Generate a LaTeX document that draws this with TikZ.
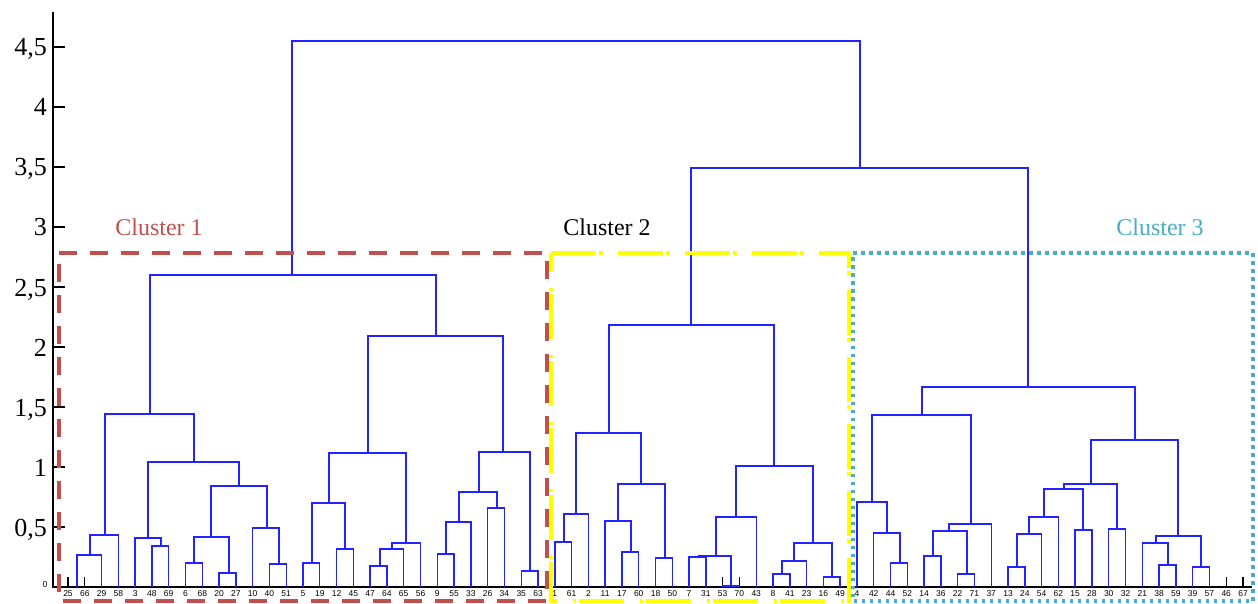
\documentclass[tikz,border=0pt]{standalone}
\usepackage{fontspec}
\setmainfont{Liberation Serif}
\newfontfamily\leaffont{Liberation Sans}
\definecolor{clA}{RGB}{192,80,77}
\definecolor{clB}{RGB}{255,255,0}
\definecolor{clC}{RGB}{75,172,198}
\definecolor{dendro}{RGB}{35,35,255}
% merge of two subtrees: name, x, height, left child, right child
\newcommand\joinpair[5]{%
  \coordinate (#1) at (#2,#3);
  \draw[link] (#4) |- (#1) -| (#5);}
\begin{document}
\begin{tikzpicture}[x=1pt,y=-1pt,
  link/.style={draw=dendro,line width=1.4pt},
  axisline/.style={draw=black,line width=1.2pt},
  leaftick/.style={draw=black,line width=1.2pt},
  leaflabel/.style={font=\leaffont\fontsize{8.5}{9}\selectfont,inner sep=0pt},
  ylabel/.style={font=\fontsize{26}{28}\selectfont,anchor=base east,inner sep=0pt},
  clustertitle/.style={font=\fontsize{24}{26}\selectfont,anchor=base,inner sep=0pt},
  boxA/.style={draw=clA,line width=4.5pt,dash pattern=on 18pt off 13pt},
  boxB/.style={draw=clB,line width=4.5pt,dash pattern=on 45pt off 3pt on 3.5pt off 15.5pt},
  boxC/.style={draw=clC,line width=3.5pt,dash pattern=on 3.5pt off 4.5pt},
]
\useasboundingbox (0,0) rectangle (1258,604);

% axes
\coordinate (axtop) at (53,12);
\coordinate (ax0) at (53,587);
\coordinate (axright) at (1252,587);
\draw[axisline] (axtop) -- (ax0) -- (axright);
\foreach \k in {1,...,9} {\draw[axisline] (53,{587-60*\k}) -- ++(12,0);}
\node[ylabel] (y1) at (47,536) {0,5};
\node[ylabel] (y2) at (47,476) {1};
\node[ylabel] (y3) at (47,416) {1,5};
\node[ylabel] (y4) at (47,356) {2};
\node[ylabel] (y5) at (47,296) {2,5};
\node[ylabel] (y6) at (47,236) {3};
\node[ylabel] (y7) at (47,176) {3,5};
\node[ylabel] (y8) at (47,116) {4};
\node[ylabel] (y9) at (47,56) {4,5};
\node[leaflabel] (y0) at (45,585) {0};

% leaves
\foreach \i/\lab in {0/25,1/66,2/29,3/58,4/3,5/48,6/69,7/6,8/68,9/20,10/27,11/10,12/40,13/51,
  14/5,15/19,16/12,17/45,18/47,19/64,20/65,21/56,22/9,23/55,24/33,25/26,26/34,27/35,28/63,
  29/1,30/61,31/2,32/11,33/17,34/60,35/18,36/50,37/7,38/31,39/53,40/70,41/43,42/8,43/41,
  44/23,45/16,46/49,47/4,48/42,49/44,50/52,51/14,52/36,53/22,54/71,55/37,56/13,57/24,
  58/54,59/62,60/15,61/28,62/30,63/32,64/21,65/38,66/59,67/39,68/57,69/46,70/67} {
  \coordinate (L\i) at ({68+16.786*\i},587);
  \draw[leaftick] (L\i) -- ++(0,-10);
  \node[leaflabel] (t\i) at ({68+16.786*\i},594) {\lab};
}
\coordinate (Lx) at (77,587);

% cluster 1
\joinpair{m1}{90}{555}{Lx}{L2}
\joinpair{m2}{105}{535}{m1}{L3}
\joinpair{m3}{161}{546}{L5}{L6}
\joinpair{m4}{148}{538}{L4}{m3}
\joinpair{m5}{194}{563}{L7}{L8}
\joinpair{m6}{229}{573}{L9}{L10}
\joinpair{m7}{211}{537}{m5}{m6}
\joinpair{m8}{279}{564}{L12}{L13}
\joinpair{m9}{267}{528}{L11}{m8}
\joinpair{m10}{239}{486}{m7}{m9}
\joinpair{m11}{194}{462}{m4}{m10}
\joinpair{m12}{150}{414}{m2}{m11}
\joinpair{m13}{312}{563}{L14}{L15}
\joinpair{m14}{345}{549}{L16}{L17}
\joinpair{m15}{329}{503}{m13}{m14}
\joinpair{m16}{380}{566}{L18}{L19}
\joinpair{m17}{392}{549}{m16}{L20}
\joinpair{m18}{406}{543}{m17}{L21}
\joinpair{m19}{368}{453}{m15}{m18}
\joinpair{m20}{446}{554}{L22}{L23}
\joinpair{m21}{459}{522}{m20}{L24}
\joinpair{m22}{497}{508}{L25}{L26}
\joinpair{m23}{479}{492}{m21}{m22}
\joinpair{m24}{530}{571}{L27}{L28}
\joinpair{m25}{503}{452}{m23}{m24}
\joinpair{m26}{436}{336}{m19}{m25}
\joinpair{m27}{292}{275}{m12}{m26}

% cluster 2
\joinpair{c1}{564}{542}{L29}{L30}
\joinpair{c2}{576}{514}{c1}{L31}
\joinpair{c3}{631}{552}{L33}{L34}
\joinpair{c4}{618}{521}{L32}{c3}
\joinpair{c5}{665}{558}{L35}{L36}
\joinpair{c6}{641}{484}{c4}{c5}
\joinpair{c7}{609}{433}{c2}{c6}
\joinpair{c8}{699}{557}{L37}{L38}
\joinpair{c9}{731}{586}{L39}{L40}
\joinpair{c10}{716}{556}{c8}{c9}
\joinpair{c11}{736}{517}{c10}{L41}
\joinpair{c12}{782}{574}{L42}{L43}
\joinpair{c13}{794}{561}{c12}{L44}
\joinpair{c14}{832}{577}{L45}{L46}
\joinpair{c15}{813}{543}{c13}{c14}
\joinpair{c16}{774}{466}{c11}{c15}
\joinpair{c17}{691}{325}{c7}{c16}

% cluster 3
\joinpair{d1}{900}{563}{L49}{L50}
\joinpair{d2}{887}{533}{L48}{d1}
\joinpair{d3}{872}{502}{L47}{d2}
\joinpair{d4}{933}{556}{L51}{L52}
\joinpair{d5}{967}{574}{L53}{L54}
\joinpair{d6}{949}{531}{d4}{d5}
\joinpair{d7}{971}{524}{d6}{L55}
\joinpair{d8}{922}{415}{d3}{d7}
\joinpair{d9}{1017}{567}{L56}{L57}
\joinpair{d10}{1029}{534}{d9}{L58}
\joinpair{d11}{1044}{517}{d10}{L59}
\joinpair{d12}{1083}{530}{L60}{L61}
\joinpair{d13}{1064}{489}{d11}{d12}
\joinpair{d14}{1117}{529}{L62}{L63}
\joinpair{d15}{1091}{484}{d13}{d14}
\joinpair{d16}{1168}{565}{L65}{L66}
\joinpair{d17}{1156}{543}{L64}{d16}
\joinpair{d18}{1201}{567}{L67}{L68}
\joinpair{d19}{1178}{536}{d17}{d18}
\joinpair{d20}{1135}{440}{d15}{d19}
\joinpair{d21}{1028}{387}{d8}{d20}

% upper levels
\joinpair{e1}{860}{168}{c17}{d21}
\joinpair{root}{576}{41}{m27}{e1}

% cluster frames
\draw[boxA] (59,253) -- (547,253) -- (547,601) -- (59,601) -- cycle;
\draw[boxB] (551,253) -- (849,253) -- (849,601) -- (551,601) -- cycle;
\draw[boxC] (853,253) -- (1253,253) -- (1253,601) -- (853,601) -- cycle;

% cluster titles
\node[clustertitle,text=clA] (cl1) at (159,236) {Cluster 1};
\node[clustertitle,text=black] (cl2) at (607,236) {Cluster 2};
\node[clustertitle,text=clC] (cl3) at (1160,236) {Cluster 3};
\end{tikzpicture}
\end{document}
